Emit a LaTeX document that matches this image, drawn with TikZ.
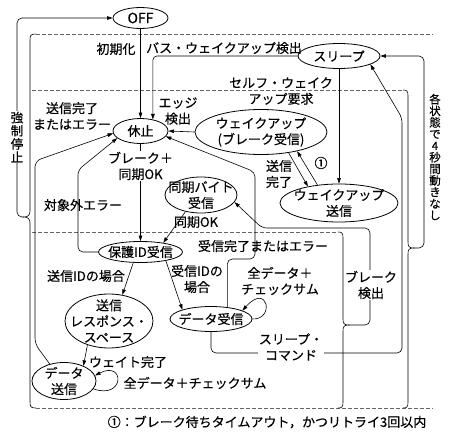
\documentclass[tikz,border=0pt]{standalone}
\usepackage{fontspec}
\setmainfont{Noto Sans CJK JP}[FakeBold=0.35]
\usetikzlibrary{shapes.geometric,arrows.meta,calc}
\begin{document}
\begin{tikzpicture}[x=1pt,y=-1pt,
  every node/.style={font=\fontsize{13}{16}\selectfont},
  st/.style={ellipse,draw,line width=0.8pt,inner sep=-40pt,align=center},
  lbl/.style={align=center,inner sep=1pt},
  wl/.style={lbl,fill=white},
  con/.style={line width=0.6pt},
  arr/.style={con,-{Triangle[length=5.5pt,width=3.6pt]}},
  dsh/.style={gray!80!black,line width=0.6pt,dash pattern=on 3.5pt off 2.5pt},
  brc/.style={line width=0.6pt},
  vtxt/.style={align=center,inner sep=1pt}
]
\useasboundingbox (0,0) rectangle (450,436);

% dashed region lines
\draw[dsh] (36,34) -- (433,34);
\draw[dsh] (36,408) -- (433,408);
\draw[dsh] (32,90) -- (403,90);
\draw[dsh] (32,232) -- (338,232);

% braces
\draw[brc] (36,34) .. controls (31,34) and (30,35) .. (30,40) -- (30,211)
  .. controls (30,215) and (28,217) .. (24,217) coordinate (ltip)
  .. controls (28,217) and (30,219) .. (30,223) -- (30,402)
  .. controls (30,407) and (31,408) .. (36,408);
\draw[brc] (403,90) .. controls (407,90) and (408,91) .. (408,96) -- (408,242)
  .. controls (408,246) and (409,248) .. (413,248) coordinate (rtip)
  .. controls (409,248) and (408,250) .. (408,254) -- (408,402)
  .. controls (408,407) and (407,408) .. (403,408);
\draw[brc] (338,232) .. controls (342,232) and (343,233) .. (343,238) -- (343,319)
  .. controls (343,323) and (344,325) .. (348,325) coordinate (btip)
  .. controls (344,325) and (343,327) .. (343,331) -- (343,402)
  .. controls (343,407) and (342,408) .. (338,408);

% states
\node[st,minimum width=55,minimum height=21,font=\fontsize{14}{16}\selectfont] (off) at (140.5,18) {OFF};
\node[st,minimum width=82,minimum height=25] (sleep) at (339,56) {スリープ};
\node[st,minimum width=55,minimum height=25] (kyushi) at (140.5,131) {休止};
\node[st,minimum width=132,minimum height=45] (wb) at (261,132) {ウェイクアップ\\(ブレーク受信)};
\node[st,minimum width=118,minimum height=38] (ws) at (339,203) {ウェイクアップ\\送信};
\node[st,minimum width=72,minimum height=36] (sync) at (201,195) {同期バイト\\受信};
\node[st,minimum width=84,minimum height=21] (pid) at (140.5,252) {保護ID受信};
\node[st,minimum width=88,minimum height=54] (tr) at (109,321) {送信\\レスポンス・\\スペース};
\node[st,minimum width=82,minimum height=25] (dr) at (211,319) {データ受信};
\node[st,minimum width=64,minimum height=37] (ds) at (64,381) {データ\\送信};

% connectors
\draw[arr] (off) -- (kyushi);
\node[lbl] (l1) at (116,49) {初期化};

\draw[arr,rounded corners=4pt] (sleep.west) -| (kyushi.43);
\node[lbl] (l2) at (224,48) {バス・ウェイクアップ検出};

\draw[arr] (sleep) -- (ws);
\node[lbl] (l3) at (281,91) {セルフ・ウェイク\\アップ要求};

\draw[arr] (wb.west) -- (kyushi.east);
\node[lbl] (l4) at (178,111) {エッジ\\検出};

\draw[arr] (wb.-37) -- (ws.152);
\draw[arr] (ws.140) -- (wb.-28);
\node[lbl] (l5) at (279,174) {送信\\完了};
\node[lbl] (l6) at (321,163) {①};

\draw[arr] (kyushi) -- (pid);
\node[wl] (l7) at (140.5,166) {ブレーク＋\\同期OK};

\draw[arr] (sync.227) -- (pid.22);
\node[lbl] (l8) at (196,222) {同期OK};

\draw[arr,rounded corners=5pt] (pid.west) -- (78,252) -- (78,170) -- (kyushi.197);
\node[lbl] (l9) at (83,205) {対象外エラー};

\draw[arr,rounded corners=6pt] (ds.130) -- (35,344) -- (35,161) -- (kyushi.185);
\node[lbl] (l10) at (72,116) {送信完了\\またはエラー};

\draw[arr,rounded corners=5pt] (dr.36) |- (255,259) -- (255,172) -- (kyushi.-12);
\node[lbl] (l11) at (263,246) {受信完了またはエラー};

\draw[arr] (pid.236) -- (tr.63);
\node[lbl] (l12) at (86,276) {送信IDの場合};

\draw[arr] (pid.-19) -- (dr.162);
\node[lbl] (l13) at (197,279) {受信IDの\\場合};

\draw[arr] (tr.228) -- (ds.38);
\node[lbl] (l14) at (128,362) {ウェイト完了};

\draw[arr] (dr.0) .. controls (275,320) and (268,282) .. (dr.15);
\node[lbl] (l15) at (280,281) {全データ＋\\チェックサム};

\draw[arr] (ds.-15) .. controls (125,400) and (125,360) .. (ds.10);
\node[lbl] (l16) at (195,383) {全データ＋チェックサム};

\draw[arr,rounded corners=5pt] (btip) -| (370,228) -- (262,228) -- (sync.-12);
\node[wl] (l17) at (371,285) {ブレーク\\検出};

\draw[arr,rounded corners=5pt] (dr.south) |- (402,353) -- (402,118) -- (sleep.-15);
\node[wl] (l18) at (291,347) {スリープ・\\コマンド};

\draw[arr,rounded corners=5pt] (rtip) -| (424,56) -- (sleep.east);
\node[vtxt,font=\fontsize{11.5}{11.6}\selectfont] (l19) at (435,157) {各\\状\\態\\で\\4\\秒\\間\\動\\き\\な\\し};

\draw[arr,rounded corners=5pt] (ltip) -| (17,18) -- (off.west);
\node[vtxt,fill=white,font=\fontsize{12.5}{13.2}\selectfont] (l20) at (17,137) {強\\制\\停\\止};

\node[lbl] (fn) at (267,422) {①：ブレーク待ちタイムアウト，かつリトライ3回以内};
\end{tikzpicture}
\end{document}
